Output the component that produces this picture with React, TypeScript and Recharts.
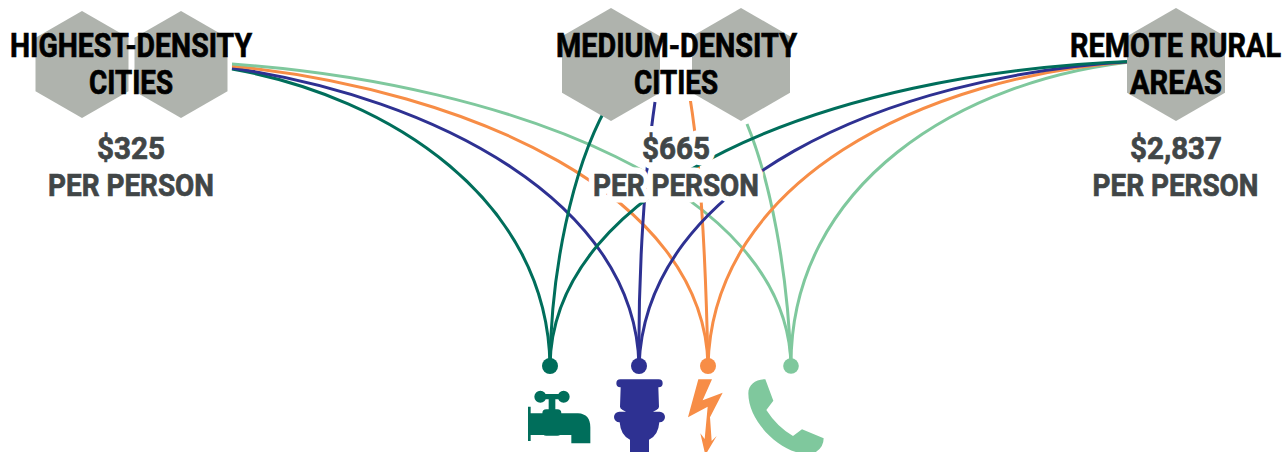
import React from 'react';
import { ComposedChart, Line, Scatter, XAxis, YAxis } from 'recharts';

type P = [number, number];

// Each link is one smooth curve, given by its four guide points
const highWater: P[] = [[232, 69], [390, 97], [548, 200], [550, 366]];
const highSewer: P[] = [[232, 68], [435, 98], [636, 202], [639, 366]];
const highPower: P[] = [[232, 66], [470, 90], [705, 195], [708, 366]];
const highPhone: P[] = [[232, 64], [512, 84], [788, 190], [791, 366]];

const midWater: P[] = [[606, 108], [572, 170], [551, 270], [550, 366]];
const midSewer: P[] = [[655, 102], [645, 170], [638, 270], [639, 366]];
const midPower: P[] = [[690, 98], [702, 170], [706, 270], [708, 366]];
const midPhone: P[] = [[747, 124], [770, 180], [788, 270], [791, 366]];

const ruralWater: P[] = [[1140, 61], [820, 72], [552, 188], [550, 366]];
const ruralSewer: P[] = [[1140, 61], [880, 75], [645, 185], [639, 366]];
const ruralPower: P[] = [[1140, 61], [920, 75], [712, 182], [708, 366]];
const ruralPhone: P[] = [[1140, 61], [960, 78], [790, 185], [791, 366]];

const hexCentres: P[] = [[82, 64.5], [181, 64.5], [611, 64.5], [741, 64.5], [1176, 64.5]];

const utilities = ['water', 'sewer', 'power', 'phone'];
const utilityX = [550, 639, 708, 791];
const utilityY = 366;

const titles = ['HIGHEST-DENSITY', 'CITIES', 'MEDIUM-DENSITY', 'CITIES', 'REMOTE RURAL', 'AREAS'];
const titleX = [131, 131, 676.5, 676, 1175.5, 1176];
const titleY = [57, 94, 57, 94, 57, 94];
const titleW = [242, 84, 241, 84, 211, 92];

const costs = ['$325', 'PER PERSON', '$665', 'PER PERSON', '$2,837', 'PER PERSON'];
const costX = [131, 131, 676, 676, 1176, 1175.5];
const costY = [159, 196, 158.5, 196, 159, 196];
const costW = [68, 166, 68, 166, 92, 166];

const TEAL = '#006e5b';
const BLUE = '#2e3192';
const ORANGE = '#f78d46';
const MINT = '#7fc89d';
const HEX = '#afb3ad';
const DARK = '#414647';
const colours: Record<string, string> = { water: TEAL, sewer: BLUE, power: ORANGE, phone: MINT };

const toRows = (pts: P[]) => pts.map(([x, y]) => ({ x, y }));

const curves: { id: string; pts: P[]; colour: string }[] = [
  { id: 'hw', pts: highWater, colour: TEAL },
  { id: 'hs', pts: highSewer, colour: BLUE },
  { id: 'hp', pts: highPower, colour: ORANGE },
  { id: 'hf', pts: highPhone, colour: MINT },
  { id: 'mw', pts: midWater, colour: TEAL },
  { id: 'ms', pts: midSewer, colour: BLUE },
  { id: 'mp', pts: midPower, colour: ORANGE },
  { id: 'mf', pts: midPhone, colour: MINT },
  { id: 'rf', pts: ruralPhone, colour: MINT },
  { id: 'rp', pts: ruralPower, colour: ORANGE },
  { id: 'rs', pts: ruralSewer, colour: BLUE },
  { id: 'rw', pts: ruralWater, colour: TEAL },
];

// Curve factory for Line: the scaled points are used as one cubic Bezier
const guidedCurve = (ctx: any) => {
  let pts: number[][] = [];
  return {
    areaStart() {},
    areaEnd() {},
    lineStart() {
      pts = [];
    },
    point(x: number, y: number) {
      pts.push([+x, +y]);
    },
    lineEnd() {
      const [a, b, c, d] = pts;
      ctx.moveTo(a[0], a[1]);
      ctx.bezierCurveTo(b[0], b[1], c[0], c[1], d[0], d[1]);
    },
  };
};

const textRows = (labels: string[], xs: number[], ys: number[], ws: number[]) =>
  labels.map((label, i) => ({ label, x: xs[i], y: ys[i], w: ws[i] }));

const titleRows = textRows(titles, titleX, titleY, titleW);
const costRows = textRows(costs, costX, costY, costW);
const utilityRows = utilities.map((kind, i) => ({ kind, x: utilityX[i], y: utilityY }));
const hexRows = toRows(hexCentres).map((r, i) => ({ ...r, big: i >= 2 }));

const FONT = 'Roboto, sans-serif';

const HexShape = (p: any) => {
  const big = p.payload.big;
  const R = big ? 56.5 : 53.5;
  const W = big ? 49 : 46.5;
  const { cx, cy } = p;
  const d = `M${cx} ${cy - R}L${cx + W} ${cy - R / 2}L${cx + W} ${cy + R / 2}L${cx} ${cy + R}L${cx - W} ${cy + R / 2}L${cx - W} ${cy - R / 2}Z`;
  return <path d={d} fill={HEX} />;
};

const makeText = (size: number, fill: string, weight: number, thicken: number) => (p: any) => (
  <text
    x={p.cx}
    y={p.cy}
    textAnchor="middle"
    fontFamily={FONT}
    fontWeight={weight}
    fontSize={size}
    fill={fill}
    stroke={fill}
    strokeWidth={thicken}
    textLength={p.payload.w}
    lengthAdjust="spacingAndGlyphs"
  >
    {p.payload.label}
  </text>
);

const HaloText = (p: any) => {
  // white knock-out under the middle hub's wording only
  if (p.cx < 500 || p.cx > 900) return <g />;
  return (
    <text
      x={p.cx}
      y={p.cy}
      textAnchor="middle"
      fontFamily={FONT}
      fontWeight={700}
      fontSize={p.payload.size}
      fill="#fff"
      stroke="#fff"
      strokeWidth={p.payload.halo}
      strokeLinejoin="round"
      textLength={p.payload.w}
      lengthAdjust="spacingAndGlyphs"
    >
      {p.payload.label}
    </text>
  );
};

const iconPaths: Record<string, { ox: number; d: string }> = {
  water: {
    ox: 121,
    d:
      'M74 170a18 18 0 1 1 36 0a18 18 0 1 1-36 0z' +
      'M144 170a18 18 0 1 1 36 0a18 18 0 1 1-36 0z' +
      'M92 162H162V178H92Z' +
      'M117 175H137V215H117Z' +
      'M110 208H143Q155 208 155 220V275Q155 287 143 287H110Q98 287 98 275V220Q98 208 110 208Z' +
      'M60 220H205Q242 222 242 262V310H185V285H60Z' +
      'M55 200H63V303H55Z',
  },
  sewer: {
    ox: 387,
    d: 'M331 118h115a12 12 0 0 1 0 24h-1l2 58q0 6-8 10l-10 5h20a16 16 0 0 1 0 32h-1q-3 40-31 52v40h-57v-40q-28-12-31-52h-1a16 16 0 0 1 0-32h20l-10-5q-8-4-8-10l2-58h-1a12 12 0 0 1 0-24z',
  },
  power: {
    ox: 595,
    d: 'M566 118L607 118L579 181L639 158L601 232L606 303L621 288L587 345L572 280L585 297L594 200L535 232Z',
  },
  phone: {
    ox: 842,
    d: 'M765 118l24 64-21 28q32 50 80 78l27-20 65 27q0 28-25 42h-55c-70-20-146-100-146-177 0-25 21-42 51-42z',
  },
};

const UtilityShape = (p: any) => {
  const kind = p.payload.kind;
  const icon = iconPaths[kind];
  return (
    <g>
      <circle cx={p.cx} cy={p.cy} r={kind === 'phone' ? 7.8 : 8} fill={colours[kind]} />
      <g transform={`translate(${p.cx} ${p.cy}) scale(${1 / 3}) translate(${-icon.ox} -78)`}>
        <path d={icon.d} fill={colours[kind]} />
      </g>
    </g>
  );
};

const TitleText = makeText(33.5, '#000', 700, 0.7);
const CostText = makeText(32, DARK, 700, 0.7);

export default function App() {
  return (
    <div style={{ position: 'absolute', left: 0, top: 0, width: 1287, height: 452, overflow: 'hidden', background: '#fff' }}>
      <ComposedChart width={1287} height={452} margin={{ top: 0, right: 0, bottom: 0, left: 0 }}>
        <XAxis type="number" dataKey="x" domain={[0, 1287]} hide />
        <YAxis type="number" dataKey="y" domain={[0, 452]} reversed hide />
        {curves.map((c) => (
          <Line
            key={c.id}
            data={toRows(c.pts)}
            dataKey="y"
            type={guidedCurve as any}
            stroke={c.colour}
            strokeWidth={3}
            dot={false}
            activeDot={false}
            isAnimationActive={false}
          />
        ))}
        <Scatter data={titleRows.map((r) => ({ ...r, size: 33.5, halo: 14 }))} dataKey="y" shape={HaloText} isAnimationActive={false} />
        <Scatter data={costRows.map((r) => ({ ...r, size: 32, halo: 13 }))} dataKey="y" shape={HaloText} isAnimationActive={false} />
        <Scatter data={hexRows} dataKey="y" shape={HexShape} isAnimationActive={false} />
        <Scatter data={utilityRows} dataKey="y" shape={UtilityShape} isAnimationActive={false} />
        <Scatter data={titleRows} dataKey="y" shape={TitleText} isAnimationActive={false} />
        <Scatter data={costRows} dataKey="y" shape={CostText} isAnimationActive={false} />
      </ComposedChart>
    </div>
  );
}
